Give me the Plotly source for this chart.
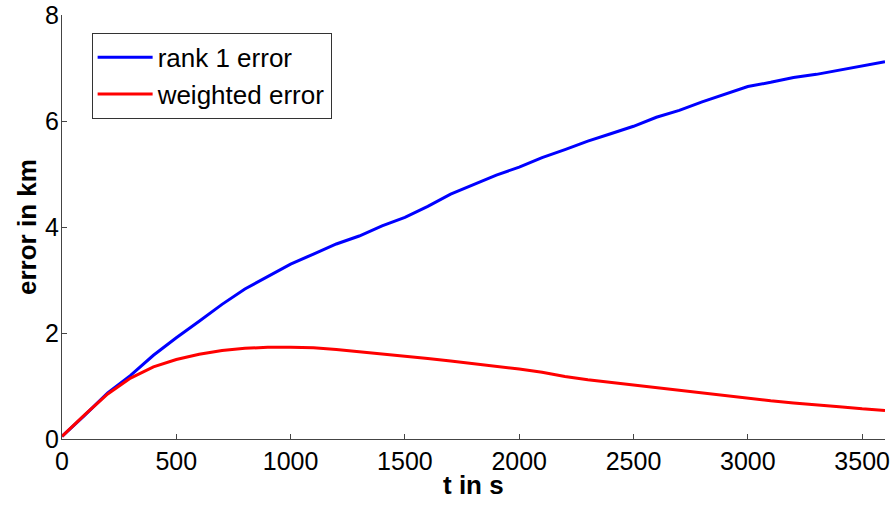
import plotly.graph_objects as go

t_s = [0, 100, 200, 300, 400, 500, 600, 700, 800, 900, 1000, 1100, 1200, 1300,
       1400, 1500, 1600, 1700, 1800, 1900, 2000, 2100, 2200, 2300, 2400, 2500,
       2600, 2700, 2800, 2900, 3000, 3100, 3200, 3300, 3400, 3500, 3600]

rank1_error = [0.05, 0.45, 0.87, 1.20, 1.58, 1.91, 2.22, 2.54, 2.83, 3.07, 3.30,
               3.49, 3.68, 3.83, 4.02, 4.18, 4.39, 4.62, 4.80, 4.98, 5.13, 5.31,
               5.46, 5.62, 5.76, 5.90, 6.07, 6.20, 6.36, 6.50, 6.65, 6.73, 6.82,
               6.88, 6.96, 7.04, 7.12]

weighted_error = [0.05, 0.46, 0.85, 1.15, 1.36, 1.50, 1.60, 1.67, 1.71, 1.73, 1.73,
                  1.72, 1.69, 1.65, 1.60, 1.56, 1.52, 1.47, 1.42, 1.38, 1.32, 1.26,
                  1.18, 1.12, 1.07, 1.01, 0.96, 0.91, 0.86, 0.81, 0.76, 0.72, 0.68,
                  0.65, 0.61, 0.57, 0.54]

x_ticks = [0, 500, 1000, 1500, 2000, 2500, 3000, 3500]
y_ticks = [0, 2, 4, 6, 8]

x_title = "<b>t in s</b>"
y_title = "<b>error in km</b>"

font_family = "Liberation Sans, Arial, sans-serif"

fig = go.Figure()
fig.add_trace(go.Scatter(x=t_s, y=rank1_error, mode="lines", name="rank 1 error",
                         line=dict(color="#0000ff", width=3)))
fig.add_trace(go.Scatter(x=t_s, y=weighted_error, mode="lines", name="weighted error",
                         line=dict(color="#ff0000", width=3)))

axis_common = dict(showline=True, linecolor="#444444", linewidth=1, ticks="inside",
                   ticklen=5, tickcolor="#444444", showgrid=False, zeroline=False,
                   automargin=False, ticklabeloverflow="allow",
                   tickfont=dict(family=font_family, size=25, color="black"))

fig.update_layout(
    width=893, height=507,
    margin=dict(l=62, r=8, t=15, b=68),
    paper_bgcolor="white", plot_bgcolor="white",
    font=dict(family=font_family, color="black"),
    xaxis=dict(range=[0, 3600], tickvals=x_ticks, ticklabelstandoff=0,
               **axis_common),
    yaxis=dict(range=[0, 8], tickvals=y_ticks, ticklabelstandoff=-3,
               **axis_common),
    legend=dict(x=0.036, y=0.958, xanchor="left", yanchor="top",
                bgcolor="white", bordercolor="#333333", borderwidth=1,
                font=dict(family=font_family, size=26), itemwidth=55,
                tracegroupgap=0),
    showlegend=True,
)

fig.add_annotation(text=x_title, xref="paper", yref="paper", x=0.5, y=0,
                   xanchor="center", yanchor="middle", yshift=-46, showarrow=False,
                   font=dict(family=font_family, size=26, color="black"))
fig.add_annotation(text=y_title, xref="paper", yref="paper", x=0, y=0.5,
                   xanchor="center", yanchor="middle", xshift=-35, textangle=-90,
                   showarrow=False,
                   font=dict(family=font_family, size=26, color="black"))

# remove the browser's default 8px body margin so the figure fills the window
fig.write_html("out.html", config={"displayModeBar": False},
               post_script="document.body.style.margin='0';")
